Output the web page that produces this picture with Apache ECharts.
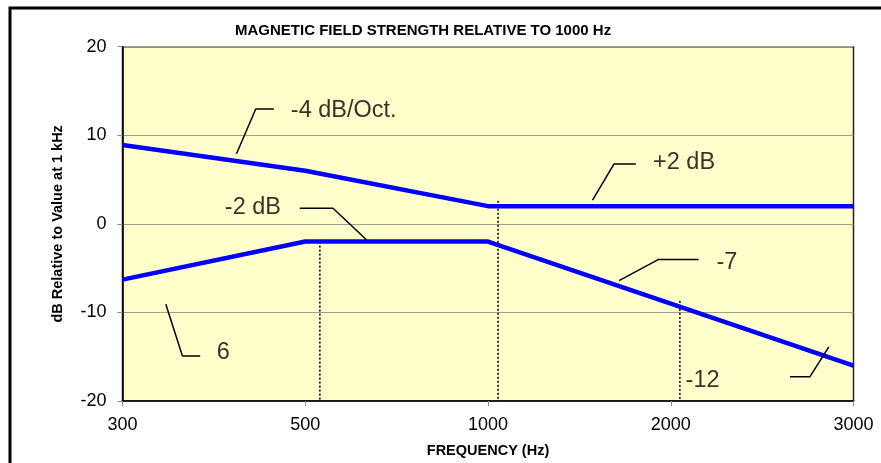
<!DOCTYPE html>
<html><head><meta charset="utf-8">
<script src="https://cdn.jsdelivr.net/npm/echarts@6/dist/echarts.min.js"></script>
<style>html,body{margin:0;padding:0;background:#fff}#c{width:881px;height:463px}</style>
</head><body><div id="c"></div>
<script>
// ---- data ----
const freqLabels = ['300', '500', '1000', '2000', '3000'];
const upperCurve = [8.9, 6, 2, 2, 2];          // dB, at each frequency index
const lowerCurve = [-6.3, -2, -2, -9, -16];
// reference drop lines: [x index, top dB]
const dropLines = [[1.08, -2], [2.055, 2.6], [3.05, -8.7]];
// callout leader lines, [x index, dB] points
const callouts = [
  [[0.624, 7.92], [0.729, 12.96], [0.828, 12.96]],
  [[0.970, 1.76], [1.152, 1.76], [1.335, -1.79]],
  [[2.572, 2.69], [2.689, 6.75], [2.809, 6.75]],
  [[2.717, -6.42], [2.931, -4.03], [3.152, -4.03]],
  [[3.652, -17.25], [3.762, -17.25], [3.865, -13.89]],
  [[0.237, -9.07], [0.328, -14.93], [0.425, -14.93]]
];
const calloutTexts = ['-4 dB/Oct.', '-2 dB', '+2 dB', '-7', '-12', '6'];
const calloutTextAt = [[0.921, 12.77], [0.560, 1.9], [2.903, 6.94], [3.250, -4.40], [3.081, -17.66], [0.516, -14.48]];

const FONT = 'Arial, "Liberation Sans", sans-serif';
const chart = echarts.init(document.getElementById('c'));
const series = [];
series.push({type:'line', data: upperCurve.map((v,i)=>[i,v]), symbol:'none', lineStyle:{color:'#0000FF', width:4.5}, z:5, silent:true});
series.push({type:'line', data: lowerCurve.map((v,i)=>[i,v]), symbol:'none', lineStyle:{color:'#0000FF', width:4.5}, z:5, silent:true});
dropLines.forEach(d => series.push({type:'line', data:[[d[0], d[1]], [d[0], -20]], symbol:'none',
  lineStyle:{color:'#000', width:1.5, type:[2,2]}, z:4, silent:true}));
callouts.forEach(c => series.push({type:'line', data:c, symbol:'none',
  lineStyle:{color:'#000', width:1.5}, z:6, silent:true}));
series.push({type:'scatter', symbolSize:0, silent:true, z:7,
  data: calloutTexts.map((t,i)=>({value: calloutTextAt[i], label:{formatter: t}})),
  label:{show:true, position:'right', distance:0, color:'#000', fontSize:23.5, fontFamily:FONT}});

chart.setOption({
  animation:false,
  backgroundColor:'#fff',
  title:{text:'MAGNETIC FIELD STRENGTH RELATIVE TO 1000 Hz', left:235, top:23, padding:0,
    textStyle:{fontSize:15, fontWeight:'bold', color:'#000', fontFamily:FONT}},
  grid:{left:122.5, right:27.5, top:46.7, bottom:60.2, show:true, backgroundColor:'#FFFFCC',
    borderColor:'#222', borderWidth:1.5},
  xAxis:{type:'value', min:0, max:4, interval:1,
    name:'FREQUENCY (Hz)', nameLocation:'middle', nameGap:42,
    nameTextStyle:{fontSize:14.5, fontWeight:'bold', color:'#000', fontFamily:FONT},
    axisLine:{onZero:false, lineStyle:{color:'#000', width:1.5}},
    axisTick:{show:true, length:5, lineStyle:{color:'#888'}},
    axisLabel:{formatter:v=>freqLabels[v], fontSize:18, color:'#000', fontFamily:FONT, margin:15},
    splitLine:{show:false}},
  yAxis:{type:'value', min:-20, max:20, interval:10,
    name:'dB Relative to Value at 1 kHz', nameLocation:'middle', nameGap:57, nameRotate:90,
    nameTextStyle:{fontSize:14.5, fontWeight:'bold', color:'#000', fontFamily:FONT},
    axisLine:{show:true, onZero:false, lineStyle:{color:'#000', width:1.5}},
    axisTick:{show:true, length:5, lineStyle:{color:'#888'}},
    axisLabel:{fontSize:18, color:'#000', fontFamily:FONT, margin:16},
    splitLine:{show:true, lineStyle:{color:'#A0A090', width:1}}},
  graphic:[{type:'rect', shape:{x:10, y:8, width:890, height:470}, style:{fill:null, stroke:'#000', lineWidth:3}, silent:true}],
  series: series
});
</script></body></html>
